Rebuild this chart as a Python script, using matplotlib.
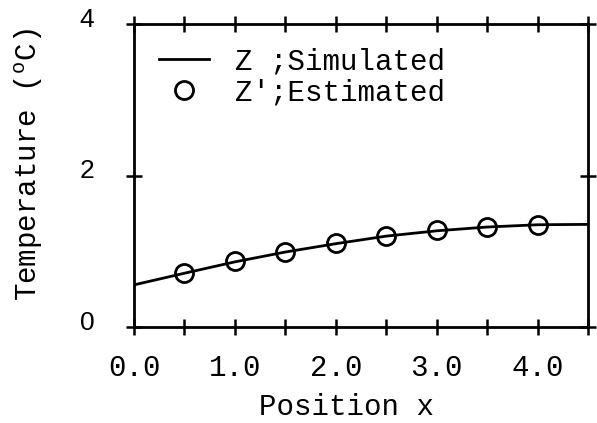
import matplotlib
matplotlib.use("Agg")
import matplotlib.pyplot as plt
import matplotlib.transforms as mtransforms

x_line = [0.0, 0.5, 1.0, 1.5, 2.0, 2.5, 3.0, 3.5, 4.0, 4.5]
z_sim = [0.556, 0.71, 0.86, 0.99, 1.10, 1.20, 1.27, 1.32, 1.35, 1.355]
x_est = [0.5, 1.0, 1.5, 2.0, 2.5, 3.0, 3.5, 4.0]
z_est = [0.71, 0.865, 0.99, 1.11, 1.205, 1.276, 1.32, 1.35]
xticks = [0.0, 1.0, 2.0, 3.0, 4.0]
xtick_labels = ["0.0", "1.0", "2.0", "3.0", "4.0"]
yticks = [0, 2, 4]
ytick_labels = ["0", "2", "4"]

plt.rcParams['mathtext.fontset'] = 'custom'
plt.rcParams['mathtext.rm'] = 'Liberation Mono'

fig = plt.figure(figsize=(5.97, 4.23), dpi=100)
ax = fig.add_axes([0.2245, 0.227, 0.7605, 0.716])
mono = 'Liberation Mono'
fs = 21

ax.plot(x_line, z_sim, color='black', lw=2, label='Z ;Simulated')
ax.plot(x_est, z_est, 'o', ms=13, mfc='none', mec='black', mew=2, label="Z';Estimated")

ax.set_xlim(0, 4.5)
ax.set_ylim(0, 4)
ax.set_xticks([i * 0.5 for i in range(10)], minor=True)
ax.set_xticks(xticks)
ax.set_xticklabels(xtick_labels, family=mono, fontsize=fs)
ax.set_yticks(yticks)
ax.set_yticklabels(ytick_labels, family='Liberation Sans', fontsize=19)
ax.tick_params(axis='both', which='both', direction='inout', length=11, width=1.8,
               top=True, right=True)
ax.tick_params(axis='x', which='major', pad=14)
ax.tick_params(axis='y', which='major', pad=23)
for s in ax.spines.values():
    s.set_linewidth(2)

shift = mtransforms.ScaledTranslation(0, 5 / 72, fig.dpi_scale_trans)
for lab in ax.get_yticklabels():
    lab.set_transform(lab.get_transform() + shift)

ax.set_xlabel('Position x', family=mono, fontsize=fs, va='baseline')
ax.xaxis.set_label_coords(0.467, -0.29)
ax.set_ylabel(r'Temperature ($^{\mathrm{o}}$C)', family=mono, fontsize=fs)
ax.yaxis.set_label_coords(-0.195, 0.535)

leg = ax.legend(loc='upper left', frameon=False, prop={'family': mono, 'size': fs},
                handlelength=1.7, handletextpad=0.9, labelspacing=0.1,
                bbox_to_anchor=(0.03, 0.962), borderaxespad=0.0)

fig.savefig('out.png', dpi=100)
